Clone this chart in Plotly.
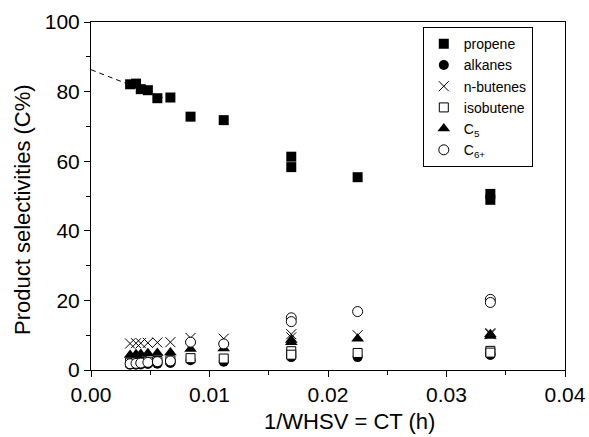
import plotly.graph_objects as go

# 1/WHSV (contact time, h)
ct = [0.0033, 0.0038, 0.0042, 0.0048, 0.0056, 0.0067, 0.0084, 0.0112,
      0.0169, 0.0169, 0.0225, 0.0337, 0.0337]

propene = [82.1, 82.3, 80.7, 80.4, 78.1, 78.3, 72.8, 71.8, 61.3, 58.3, 55.4, 50.6, 48.9]
alkanes = [1.5, 1.5, 1.6, 1.7, 1.8, 2.0, 2.8, 2.4, 3.7, 3.9, 3.7, 4.3, 4.5]
n_butenes = [7.6, 7.7, 7.7, 7.8, 7.9, 8.0, 9.2, 9.0, 10.3, 9.4, 10.0, 10.6, 10.3]
isobutene = [2.1, 2.2, 2.3, 2.4, 2.6, 2.8, 3.4, 3.3, 5.4, 4.4, 4.9, 5.5, 5.0]
c5 = [4.3, 4.5, 4.6, 4.8, 4.9, 5.0, 6.0, 6.2, 8.6, 8.0, 9.0, 10.3, 9.8]
c6 = [1.8, 1.9, 2.0, 2.2, 2.4, 2.6, 8.0, 7.5, 15.0, 13.9, 16.8, 20.3, 19.4]

# dashed extrapolation of propene selectivity to zero contact time
fit_x = [0.0, 0.0067]
fit_y = [86.3, 77.4]

x_ticks = [0.00, 0.01, 0.02, 0.03, 0.04]
y_ticks = [0, 20, 40, 60, 80, 100]

x_title = "1/WHSV = CT (h)"
y_title = "Product selectivities (C%)"

FONT = "Arial, Liberation Sans, sans-serif"

fig = go.Figure()
fig.add_trace(go.Scatter(x=fit_x, y=fit_y, mode="lines", showlegend=False,
                         line=dict(color="black", width=1, dash="5px,4px")))

series = [
    ("propene", propene, dict(symbol="square", size=10, color="black", line=dict(width=0))),
    ("alkanes", alkanes, dict(symbol="circle", size=10, color="black", line=dict(width=0))),
    ("n-butenes", n_butenes, dict(symbol="x-thin-open", size=10, color="black", line=dict(width=1, color="black"))),
    ("isobutene", isobutene, dict(symbol="square", size=9, color="white", line=dict(width=1, color="black"))),
    ("C<sub>5</sub>", c5, dict(symbol="triangle-up", size=11, color="black", line=dict(width=0))),
    ("C<sub>6+</sub>", c6, dict(symbol="circle", size=10, color="white", line=dict(width=1, color="black"))),
]
for name, vals, mk in series:
    fig.add_trace(go.Scatter(x=ct, y=vals, mode="markers", name=name, marker=mk))

axis_common = dict(
    showline=True, linecolor="black", linewidth=1, mirror=True,
    showgrid=False, zeroline=False, automargin=False,
    ticks="outside", ticklen=6, tickwidth=1, tickcolor="black",
    tickfont=dict(family=FONT, size=21, color="black"),
)

fig.update_xaxes(
    range=[0, 0.04], tickvals=x_ticks, tickformat=".2f",
    minor=dict(dtick=0.005, ticks="outside", ticklen=4, tickcolor="black", tickwidth=1),
    **axis_common,
)
fig.update_yaxes(
    range=[0, 100], tickvals=y_ticks,
    minor=dict(dtick=10, ticks="outside", ticklen=4, tickcolor="black", tickwidth=1),
    **axis_common,
)

title_font = dict(family=FONT, size=22, color="black")
fig.add_annotation(text=x_title, xref="paper", yref="paper", x=0.5464, y=-0.1466,
                   xanchor="center", yanchor="middle", showarrow=False, font=title_font)
fig.add_annotation(text=y_title, xref="paper", yref="paper", x=-0.1456, y=0.4626,
                   xanchor="center", yanchor="middle", textangle=-90, showarrow=False,
                   font=title_font)

fig.update_layout(
    width=589, height=437,
    margin=dict(l=91, r=24, t=22, b=67),
    paper_bgcolor="white", plot_bgcolor="white",
    font=dict(family=FONT, color="black"),
    legend=dict(
        x=0.7, xanchor="left", y=0.985, yanchor="top",
        bgcolor="white", bordercolor="black", borderwidth=1,
        font=dict(family=FONT, size=14, color="black"),
        itemwidth=30,
    ),
)

fig.write_html("out.html", config={"displayModeBar": False},
               post_script="document.body.style.margin='0px';")
